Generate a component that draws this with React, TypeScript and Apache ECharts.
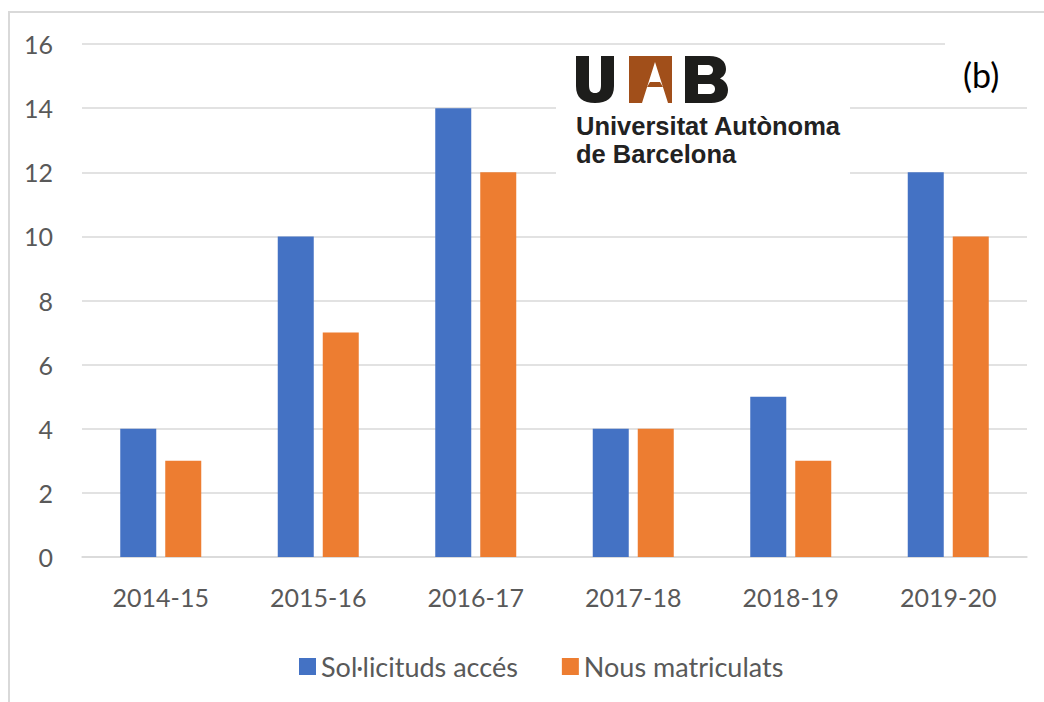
import React, { useEffect, useRef } from "react";
import * as echarts from "echarts";

const categories = ["2014-15", "2015-16", "2016-17", "2017-18", "2018-19", "2019-20"];
const solicituds = [4, 10, 14, 4, 5, 12];
const matriculats = [3, 7, 12, 4, 3, 10];
const seriesNames = ["Sol·licituds accés", "Nous matriculats"];

const U_PATH =
  "M0 0 H13 V29 C13 35 15 37 19 37 C23 37 25 35 25 29 V0 H38 V30 C38 42 31 47 19 47 C7 47 0 42 0 30 Z";
const B_PATH =
  "M0 0 H24 C36 0 41 6 41 13 C41 18 38 21 35 22.5 C39 24 43 28 43 34 C43 42 37 47 26 47 H0 Z " +
  "M13 9 V19 H22 C26 19 28 17 28 14 C28 11 26 9 22 9 Z " +
  "M13 28 V38 H24 C28 38 30 36 30 33 C30 30 28 28 24 28 Z";

let registered = false;
function registerShapes() {
  if (registered) return;
  registered = true;
  echarts.graphic.registerShape("logoU", echarts.graphic.extendPath(U_PATH, {}));
  echarts.graphic.registerShape("logoB", echarts.graphic.extendPath(B_PATH, {}));
}

export default function App() {
  const ref = useRef<HTMLDivElement>(null);
  useEffect(() => {
    document.body.style.margin = "0";
    registerShapes();
    const chart = echarts.init(ref.current!, null, { renderer: "svg" });
    const font = "Lato";
    const grey = "#595959";
    const dark = "#1d1d1b";
    const brown = "#a14f1a";
    chart.setOption({
      animation: false,
      backgroundColor: "#ffffff",
      textStyle: { fontFamily: font },
      grid: { left: 82, right: 17, top: 44, bottom: 145, containLabel: false },
      legend: {
        data: seriesNames,
        left: 294,
        top: 648,
        itemWidth: 17,
        itemHeight: 17,
        itemGap: 44,
        icon: "rect",
        textStyle: { fontFamily: font, fontSize: 27, color: grey },
      },
      xAxis: {
        type: "category",
        data: categories,
        axisLine: { show: true, lineStyle: { color: "#d9d9d9", width: 1.5 } },
        axisTick: { show: false },
        axisLabel: { color: grey, fontSize: 25, fontFamily: font, margin: 27 },
      },
      yAxis: {
        type: "value",
        min: 0,
        max: 16,
        interval: 2,
        axisLine: { show: false },
        axisTick: { show: false },
        axisLabel: { color: grey, fontSize: 25, fontFamily: font, margin: 29 },
        splitLine: { lineStyle: { color: "#d9d9d9", width: 1.5 } },
      },
      series: [
        {
          name: seriesNames[0],
          type: "bar",
          data: solicituds,
          barWidth: 36,
          barGap: "25%",
          itemStyle: { color: "#4472c4" },
        },
        {
          name: seriesNames[1],
          type: "bar",
          data: matriculats,
          barWidth: 36,
          barGap: "25%",
          itemStyle: { color: "#ed7d31" },
        },
      ],
      graphic: [
        {
          type: "rect",
          z: 100,
          shape: { x: 9, y: 12, width: 1200, height: 900 },
          style: { fill: "none", stroke: "#d9d9d9", lineWidth: 2 },
        },
        {
          type: "rect",
          z: 100,
          shape: { x: 556, y: 48, width: 294, height: 127 },
          style: { fill: "#ffffff" },
        },
        {
          type: "rect",
          z: 100,
          shape: { x: 945, y: 30, width: 90, height: 70 },
          style: { fill: "#ffffff" },
        },
        { type: "logoU", z: 101, x: 576, y: 56, style: { fill: dark } },
        {
          type: "polygon",
          z: 101,
          shape: {
            points: [
              [629, 56],
              [672, 56],
              [672, 103],
              [668, 103],
              [655, 62],
              [642, 103],
              [629, 103],
            ],
          },
          style: { fill: brown },
        },
        {
          type: "polygon",
          z: 101,
          shape: {
            points: [
              [647, 87],
              [663, 87],
              [660, 82],
              [650, 82],
            ],
          },
          style: { fill: brown },
        },
        { type: "logoB", z: 101, x: 685, y: 56, style: { fill: dark } },
        {
          type: "text",
          z: 101,
          x: 576,
          y: 126,
          style: {
            text: "Universitat Autònoma",
            fill: "#222222",
            fontFamily: "Liberation Sans",
            fontWeight: "bold",
            fontSize: 25.5,
            align: "left",
            verticalAlign: "middle",
          },
        },
        {
          type: "text",
          z: 101,
          x: 576,
          y: 154,
          style: {
            text: "de Barcelona",
            fill: "#222222",
            fontFamily: "Liberation Sans",
            fontWeight: "bold",
            fontSize: 25.5,
            align: "left",
            verticalAlign: "middle",
          },
        },
        {
          type: "text",
          z: 101,
          x: 963,
          y: 74,
          style: {
            text: "(b)",
            fill: "#000000",
            fontFamily: font,
            fontSize: 34,
            align: "left",
            verticalAlign: "middle",
          },
        },
      ],
    });
    return () => chart.dispose();
  }, []);
  return (
    <div
      ref={ref}
      style={{ position: "fixed", left: 0, top: 0, width: 1044, height: 702 }}
    />
  );
}
